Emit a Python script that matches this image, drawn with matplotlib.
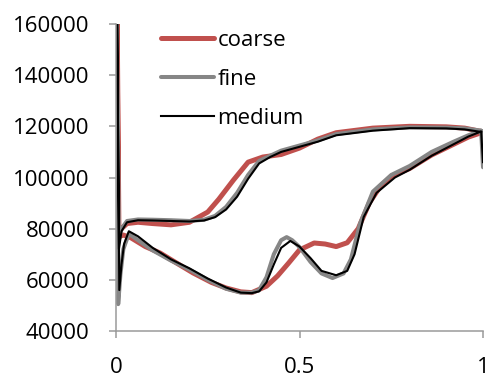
import matplotlib
matplotlib.use("Agg")
import matplotlib.pyplot as plt

# coarse mesh: upper branch (TE -> LE), leading edge spike, lower branch (LE -> TE)
coarse_x = [0.995, 0.95, 0.9, 0.8, 0.7, 0.6, 0.55, 0.5, 0.45, 0.4, 0.36, 0.32, 0.28, 0.25, 0.2, 0.15, 0.1, 0.06, 0.03, 0.015, 0.008,
            0.003, 0.006,
            0.01, 0.02, 0.04, 0.08, 0.12, 0.16, 0.21, 0.26, 0.30, 0.34, 0.37, 0.41, 0.44, 0.47, 0.50, 0.54, 0.57, 0.60, 0.63, 0.66,
            0.69, 0.72, 0.75, 0.8, 0.86, 0.92, 0.96, 0.995]
coarse_y = [118000, 119300, 119800, 120000, 119300, 117500, 115000, 111500, 109000, 108000, 106000, 99000, 91500, 86500, 82500, 81500, 82000, 82500, 82000, 80000, 78000,
            165000, 78000,
            77000, 77500, 76500, 73000, 70500, 67000, 62700, 59000, 56800, 55300, 55000, 57500, 61500, 66500, 71700, 74400, 74000, 73000, 74500, 80000,
            90000, 96500, 100500, 103500, 108800, 113000, 115800, 117500]

fine_x = [0.995, 0.95, 0.9, 0.8, 0.7, 0.6, 0.55, 0.5, 0.45, 0.42, 0.39, 0.36, 0.33, 0.3, 0.27, 0.24, 0.2, 0.15, 0.1, 0.06, 0.03, 0.015, 0.008,
          0.002, 0.006,
          0.012, 0.02, 0.035, 0.06, 0.1, 0.15, 0.2, 0.25, 0.3, 0.34, 0.37, 0.39, 0.41, 0.43, 0.45, 0.465, 0.48, 0.5, 0.53, 0.56, 0.59,
          0.62, 0.64, 0.665, 0.70, 0.75, 0.8, 0.86, 0.92, 0.96, 0.995, 1.0]
fine_y = [118300, 119200, 119500, 119600, 118800, 117000, 114500, 112500, 110500, 108500, 106500, 101000, 94000, 88500, 85000, 83500, 83000, 83300, 83500, 83600, 83000, 80000, 76000,
          165000, 50500,
          62000, 72000, 78000, 75500, 71500, 67500, 64000, 60000, 56500, 55000, 55000, 56000, 61000, 70000, 75500, 76700, 75500, 72800, 67000, 62500, 60700,
          62500, 68000, 82000, 94500, 101000, 104500, 110000, 114000, 116500, 118300, 104000]

medium_x = [0.995, 0.95, 0.9, 0.8, 0.7, 0.6, 0.55, 0.5, 0.45, 0.42, 0.39, 0.36, 0.33, 0.3, 0.27, 0.24, 0.2, 0.15, 0.1, 0.06, 0.03, 0.015, 0.008,
            0.003, 0.009,
            0.015, 0.022, 0.035, 0.06, 0.1, 0.15, 0.2, 0.25, 0.3, 0.34, 0.37, 0.39, 0.41, 0.43, 0.45, 0.475, 0.5, 0.53, 0.56, 0.6,
            0.63, 0.65, 0.675, 0.71, 0.76, 0.8, 0.86, 0.92, 0.96, 0.995, 1.0]
medium_y = [117800, 118800, 119200, 119300, 118300, 116500, 114000, 112000, 110000, 108000, 105500, 99500, 92500, 87500, 84500, 83200, 82800, 83000, 83200, 83300, 82500, 79000, 72000,
            165000, 56000,
            66000, 74000, 79000, 77000, 72500, 68000, 64500, 60500, 57000, 55000, 54800, 55500, 59000, 66000, 72500, 75200, 73000, 68500, 63500, 61800,
            63500, 70000, 84600, 94000, 100000, 103000, 108500, 113000, 116000, 118000, 106000]

x_ticks = [0, 0.5, 1]
x_labels = ["0", "0.5", "1"]
y_ticks = [40000, 60000, 80000, 100000, 120000, 140000, 160000]

plt.rcParams['font.family'] = ['Open Sans', 'DejaVu Sans']

fig = plt.figure(figsize=(4.86, 3.77), dpi=100)
ax = fig.add_axes([116/486, 1-331/377, 367/486, 307/377])

ax.plot(coarse_x, coarse_y, color='#C0504D', lw=3.6, label='coarse', solid_capstyle='round')
ax.plot(fine_x, fine_y, color='#868686', lw=2.9, label='fine', solid_capstyle='round')
ax.plot(medium_x, medium_y, color='black', lw=1.5, label='medium')

ax.set_xlim(0, 1)
ax.set_ylim(40000, 160000)
ax.set_xticks(x_ticks)
ax.set_xticklabels(x_labels)
ax.set_yticks(y_ticks)
ax.set_yticklabels([str(v) for v in y_ticks])

for s in ['top', 'right']:
    ax.spines[s].set_visible(False)
for s in ['left', 'bottom']:
    ax.spines[s].set_color('#9a9a9a')
    ax.spines[s].set_linewidth(1.1)
ax.tick_params(axis='both', colors='#9a9a9a', length=5, width=1.1, labelcolor='black', labelsize=16)
ax.tick_params(axis='y', pad=14)
ax.tick_params(axis='x', pad=14)

leg = ax.legend(loc='upper left', bbox_to_anchor=(0.098, 1.01), frameon=False, fontsize=16,
                handlelength=2.4, handletextpad=0.15, labelspacing=0.82, borderaxespad=0)

fig.savefig('out.png', dpi=100)
